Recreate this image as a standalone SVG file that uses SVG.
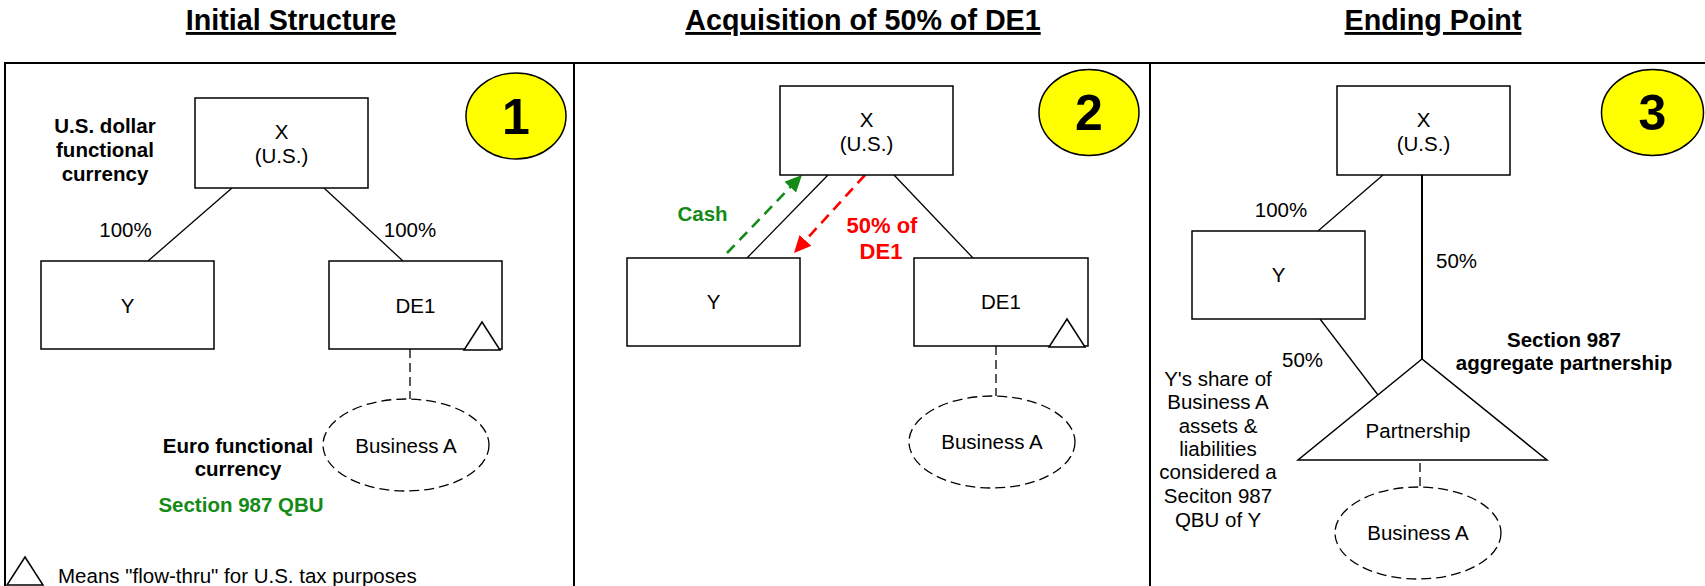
<svg xmlns="http://www.w3.org/2000/svg" width="1705" height="586" viewBox="0 0 1705 586">
<defs>
<style>
.t{font-family:"Liberation Sans",Arial,sans-serif;font-size:20.5px;fill:#000}
.m{text-anchor:middle}
.b{font-weight:bold}
.title{font-size:28.7px;font-weight:bold;text-decoration:underline;text-anchor:middle}
.num{font-size:50px;font-weight:bold;text-anchor:middle}
.grn{fill:#168a16}
.red{fill:#ff0000}
.frame{stroke:#000;stroke-width:2;fill:none}
.box{fill:#fff;stroke:#000;stroke-width:1.5}
.badge{fill:#ffff00;stroke:#000;stroke-width:1.5}
.oval{fill:#fff;stroke:#000;stroke-width:1.3;stroke-dasharray:10 5}
.conn{stroke:#000;stroke-width:1.3;fill:none}
.dash{stroke:#000;stroke-width:1.3;stroke-dasharray:9 5;fill:none}
.cash{stroke:#168a16;stroke-width:2.6;stroke-dasharray:11 7;fill:none}
.de1{stroke:#ff0000;stroke-width:2.6;stroke-dasharray:11 7;fill:none}
</style>
<marker id="ag" markerUnits="userSpaceOnUse" markerWidth="18" markerHeight="16" refX="17" refY="8" orient="auto"><path d="M0,0 L17,8 L0,16 Z" fill="#168a16"/></marker>
<marker id="ar" markerUnits="userSpaceOnUse" markerWidth="18" markerHeight="16" refX="17" refY="8" orient="auto"><path d="M0,0 L17,8 L0,16 Z" fill="#ff0000"/></marker>
</defs>
<rect width="1705" height="586" fill="#fff"/>

<g id="titles">
<text class="t title" x="291" y="30">Initial Structure</text>
<text class="t title" x="863" y="30">Acquisition of 50% of DE1</text>
<text class="t title" x="1433" y="30">Ending Point</text>
</g>

<g id="frame">
<path class="frame" d="M5,586 V63 H1705 M574,63 V586 M1150,63 V586"/>
</g>

<g id="connectors">
<line class="conn" x1="232" y1="188" x2="148" y2="261"/>
<line class="conn" x1="324" y1="188" x2="403" y2="261"/>
<line class="dash" x1="410" y1="349" x2="410" y2="399"/>
<line class="conn" x1="828" y1="175" x2="747" y2="258"/>
<line class="conn" x1="894" y1="175" x2="973" y2="258"/>
<line class="dash" x1="996" y1="346" x2="996" y2="396"/>
<line class="cash" x1="727" y1="253" x2="802" y2="175" marker-end="url(#ag)"/>
<line class="de1" x1="865" y1="175" x2="794" y2="253" marker-end="url(#ar)"/>
<line class="conn" x1="1383" y1="175" x2="1318" y2="231"/>
<line class="conn" x1="1422" y1="175" x2="1422" y2="359" style="stroke-width:2"/>
<line class="conn" x1="1320" y1="319" x2="1378" y2="395"/>
<line class="dash" x1="1420" y1="463" x2="1420" y2="487"/>
</g>

<g id="panel1-badge">
<ellipse class="badge" cx="516" cy="116" rx="50" ry="43"/>
<text class="t num" x="516" y="134">1</text>
</g>
<g id="panel1-X">
<rect class="box" x="195" y="98" width="173" height="90"/>
<text class="t m" x="281.5" y="139">X</text>
<text class="t m" x="281.5" y="163">(U.S.)</text>
</g>
<g id="panel1-Y">
<rect class="box" x="41" y="261" width="173" height="88"/>
<text class="t m" x="127.5" y="313">Y</text>
</g>
<g id="panel1-DE1">
<rect class="box" x="329" y="261" width="173" height="88"/>
<text class="t m" x="415.5" y="313">DE1</text>
<polygon class="box" points="482,322 464,350 500,350"/>
</g>
<g id="panel1-BusinessA">
<ellipse class="oval" cx="406" cy="445" rx="83" ry="46"/>
<text class="t m" x="406" y="453">Business A</text>
</g>
<g id="panel1-labels">
<text class="t m" x="125.5" y="237">100%</text>
<text class="t m" x="410" y="237">100%</text>
<text class="t m b" x="105" y="133">U.S. dollar</text>
<text class="t m b" x="105" y="157">functional</text>
<text class="t m b" x="105" y="181">currency</text>
<text class="t m b" x="238" y="453">Euro functional</text>
<text class="t m b" x="238" y="476">currency</text>
<text class="t m b grn" x="241" y="512">Section 987 QBU</text>
</g>
<g id="legend">
<polygon class="box" points="25,557 7,585 43,585"/>
<text class="t" x="58" y="583">Means "flow-thru" for U.S. tax purposes</text>
</g>

<g id="panel2-badge">
<ellipse class="badge" cx="1089" cy="112.5" rx="50" ry="43"/>
<text class="t num" x="1089" y="130">2</text>
</g>
<g id="panel2-X">
<rect class="box" x="780" y="86" width="173" height="89"/>
<text class="t m" x="866.5" y="127">X</text>
<text class="t m" x="866.5" y="151">(U.S.)</text>
</g>
<g id="panel2-Y">
<rect class="box" x="627" y="258" width="173" height="88"/>
<text class="t m" x="713.5" y="309">Y</text>
</g>
<g id="panel2-DE1">
<rect class="box" x="914" y="258" width="174" height="88"/>
<text class="t m" x="1001" y="309">DE1</text>
<polygon class="box" points="1067,319 1049,347 1085,347"/>
</g>
<g id="panel2-BusinessA">
<ellipse class="oval" cx="992" cy="442" rx="83" ry="46"/>
<text class="t m" x="992" y="449">Business A</text>
</g>
<g id="panel2-labels">
<text class="t m b grn" x="702.5" y="221">Cash</text>
<text class="t m b red" x="882" y="233" style="font-size:22px">50% of</text>
<text class="t m b red" x="881" y="259" style="font-size:22px">DE1</text>
</g>

<g id="panel3-badge">
<ellipse class="badge" cx="1652.5" cy="112.5" rx="51" ry="43"/>
<text class="t num" x="1652.5" y="130">3</text>
</g>
<g id="panel3-X">
<rect class="box" x="1337" y="86" width="173" height="89"/>
<text class="t m" x="1423.5" y="127">X</text>
<text class="t m" x="1423.5" y="151">(U.S.)</text>
</g>
<g id="panel3-Y">
<rect class="box" x="1192" y="231" width="173" height="88"/>
<text class="t m" x="1278.5" y="282">Y</text>
</g>
<g id="panel3-Partnership">
<polygon class="box" points="1422,359 1298,460 1547,460"/>
<text class="t m" x="1418" y="438">Partnership</text>
</g>
<g id="panel3-BusinessA">
<ellipse class="oval" cx="1418" cy="533" rx="83" ry="46"/>
<text class="t m" x="1418" y="540">Business A</text>
</g>
<g id="panel3-labels">
<text class="t m" x="1281" y="217">100%</text>
<text class="t" x="1436" y="268">50%</text>
<text class="t" x="1282" y="367">50%</text>
<text class="t m b" x="1564" y="347">Section 987</text>
<text class="t m b" x="1564" y="370">aggregate partnership</text>
<text class="t m" x="1218" y="386">Y's share of</text>
<text class="t m" x="1218" y="409">Business A</text>
<text class="t m" x="1218" y="433">assets &amp;</text>
<text class="t m" x="1218" y="456">liabilities</text>
<text class="t m" x="1218" y="479">considered a</text>
<text class="t m" x="1218" y="503">Seciton 987</text>
<text class="t m" x="1218" y="527">QBU of Y</text>
</g>
</svg>
